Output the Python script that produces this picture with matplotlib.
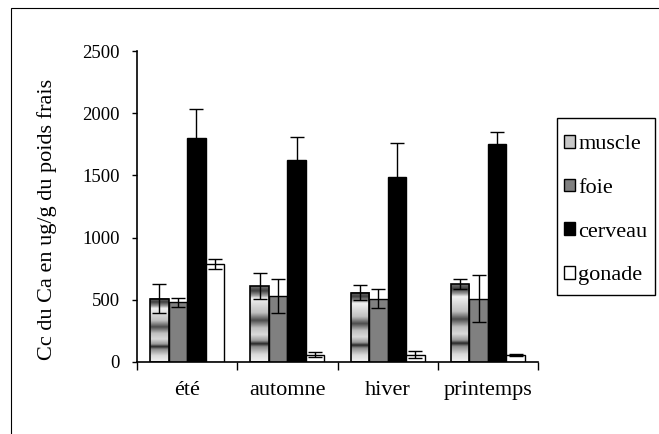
import numpy as np
import matplotlib.pyplot as plt
from matplotlib.patches import Patch, Rectangle

# Data
saisons = ["été", "automne", "hiver", "printemps"]
organes = ["muscle", "foie", "cerveau", "gonade"]
muscle = [510, 610, 555, 625]
muscle_err = [120, 105, 60, 40]
foie = [480, 530, 510, 510]
foie_err = [35, 135, 75, 190]
cerveau = [1800, 1620, 1490, 1750]
cerveau_err = [235, 190, 270, 95]
gonade = [790, 60, 60, 60]
gonade_err = [40, 20, 28, 8]

values = [muscle, foie, cerveau, gonade]
errors = [muscle_err, foie_err, cerveau_err, gonade_err]
colors = ["#c8c8c8", "#808080", "#000000", "#ffffff"]

# banded gradient used by Excel for the muscle series (fraction from bottom -> gray)
grad_pos = [0.0, 0.10, 0.20, 0.24, 0.28, 0.36, 0.45, 0.55, 0.65, 0.75, 0.84, 0.88, 0.94, 1.0]
grad_val = [0.95, 0.85, 0.55, 0.15, 0.6, 0.85, 0.75, 0.3, 0.75, 0.85, 0.95, 0.6, 0.25, 0.45]

plt.rcParams["font.family"] = ["Liberation Serif", "DejaVu Serif"]

W, H = 659, 434
fig = plt.figure(figsize=(W / 100, H / 100), dpi=100)
ax = fig.add_axes([137 / W, 1 - 362 / H, 401 / W, 311 / H])

# outer chart frame (cut off at right and bottom in the reference)
fig.patches.append(Rectangle((11 / W, -0.5), 2.0, 1.5 - 8 / H,
                             transform=fig.transFigure, fill=False,
                             edgecolor="black", linewidth=0.8))

width = 0.185
x = np.arange(len(saisons)) + 0.5
yy = np.linspace(0, 1, 200)
profile = np.interp(yy, grad_pos, grad_val)[::-1].reshape(-1, 1)

for i, (vals, errs, col) in enumerate(zip(values, errors, colors)):
    pos = x + (i - 1.5) * width
    if i == 0:
        for p, v in zip(pos, vals):
            ax.imshow(profile, extent=[p - width / 2, p + width / 2, 0, v],
                      cmap="gray", vmin=0, vmax=1, aspect="auto",
                      interpolation="bilinear", zorder=1)
        ax.bar(pos, vals, width, facecolor="none", edgecolor="black",
               linewidth=1.2, zorder=2)
    else:
        ax.bar(pos, vals, width, color=col, edgecolor="black",
               linewidth=1.0, zorder=2)
    ax.errorbar(pos, vals, yerr=errs, fmt="none", ecolor="black",
                elinewidth=1.0, capsize=5, capthick=1.0, zorder=3)

ax.set_xlim(0, 4)
ax.set_ylim(0, 2500)
ax.set_yticks(np.arange(0, 2501, 500))
ax.set_xticks(np.arange(0, 5))
ax.set_xticklabels([])
ax.set_xticks(x, minor=True)
ax.set_xticklabels(saisons, minor=True, fontsize=16)
ax.tick_params(axis="x", which="minor", length=0, pad=14)
ax.tick_params(axis="x", which="major", length=6, direction="out", width=1)
ax.tick_params(axis="y", length=3.5, direction="out", labelsize=13.5,
               width=1, pad=9)
for s in ["top", "right"]:
    ax.spines[s].set_visible(False)
ax.spines["left"].set_linewidth(1.2)
ax.spines["bottom"].set_linewidth(1.2)
ax.set_ylabel("Cc du Ca en ug/g du poids frais", fontsize=16)
ax.yaxis.set_label_coords(-0.2, 0.46)

# legend box drawn separately (Excel leaves little room on its right side)
fig.patches.append(Rectangle((557 / W, 1 - 295 / H), 98 / W, 177 / H,
                             transform=fig.transFigure, fill=False,
                             edgecolor="black", linewidth=1.0))
handles = [Patch(facecolor=c, edgecolor="black", label=n)
           for c, n in zip(colors, organes)]
fig.legend(handles=handles, loc="upper left",
           bbox_to_anchor=(564 / W, 1 - 135 / H),
           fontsize=16, frameon=False,
           handlelength=0.5, handleheight=0.5, handletextpad=0.15,
           labelspacing=1.1, borderpad=0, borderaxespad=0)

fig.savefig("out.png", dpi=100)
